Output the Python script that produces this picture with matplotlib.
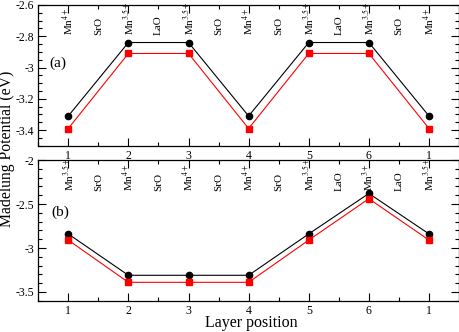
import numpy as np
import matplotlib
matplotlib.use("Agg")
import matplotlib.pyplot as plt
from matplotlib.ticker import MultipleLocator, FuncFormatter

plt.rcParams['font.family'] = ['Liberation Serif', 'DejaVu Serif']
plt.rcParams['mathtext.fontset'] = 'stix'
plt.rcParams['axes.unicode_minus'] = False

# layer positions (7th point repeats layer 1)
positions = [1, 2, 3, 4, 5, 6, 7]
pos_labels = ['1', '2', '3', '4', '5', '6', '1']

# panel (a)
a_black = [-3.31, -2.84, -2.84, -3.31, -2.84, -2.84, -3.31]
a_red = [-3.39, -2.91, -2.91, -3.39, -2.91, -2.91, -3.39]
a_layers = [r'Mn$^{4+}$', 'SrO', r'Mn$^{3.5+}$', 'LaO', r'Mn$^{3.5+}$', 'SrO',
            r'Mn$^{4+}$', 'SrO', r'Mn$^{3.5+}$', 'LaO', r'Mn$^{3.5+}$', 'SrO',
            r'Mn$^{4+}$']

# panel (b)
b_black = [-2.84, -3.31, -3.31, -3.31, -2.84, -2.38, -2.84]
b_red = [-2.91, -3.39, -3.39, -3.39, -2.91, -2.44, -2.91]
b_layers = [r'Mn$^{3.5+}$', 'SrO', r'Mn$^{4+}$', 'SrO', r'Mn$^{4+}$', 'SrO',
            r'Mn$^{4+}$', 'SrO', r'Mn$^{3.5+}$', 'LaO', r'Mn$^{3+}$', 'LaO',
            r'Mn$^{3.5+}$']

layer_x = np.arange(1, 7.01, 0.5)

fig = plt.figure(figsize=(4.6, 3.32), dpi=100)
ax1 = fig.add_axes([0.083, 0.561, 0.915, 0.424])
ax2 = fig.add_axes([0.083, 0.094, 0.915, 0.424])


def style_axis(ax, ylim, major, minor):
    ax.set_xlim(0.5, 7.5)
    ax.set_ylim(*ylim)
    ax.set_xticks(positions)
    ax.set_xticklabels(pos_labels)
    ax.xaxis.set_minor_locator(MultipleLocator(0.5))
    ax.yaxis.set_major_locator(MultipleLocator(major))
    ax.yaxis.set_minor_locator(MultipleLocator(minor))
    ax.yaxis.set_major_formatter(FuncFormatter(lambda v, p: '%g' % round(v, 3)))
    ax.tick_params(which='both', direction='in', top=True, right=True, labelsize=8.5, pad=3)
    ax.tick_params(which='major', length=6, width=0.8)
    ax.tick_params(which='minor', length=3, width=0.8)
    for s in ax.spines.values():
        s.set_linewidth(0.9)


def draw_panel(ax, black, red, layers, label_y, tag, tag_xy):
    ax.plot(positions, black, color='black', lw=0.8, marker='o', ms=4.5, zorder=3)
    ax.plot(positions, red, color='red', lw=0.8, marker='s', ms=4.5, zorder=3)
    for x, name in zip(layer_x, layers):
        ax.text(x, label_y, name, rotation=90, ha='center', va='bottom', fontsize=8)
    ax.text(tag_xy[0], tag_xy[1], tag, ha='center', va='center', fontsize=11)


style_axis(ax1, (-3.5, -2.6), 0.2, 0.05)
style_axis(ax2, (-3.6, -2.0), 0.5, 0.1)

draw_panel(ax1, a_black, a_red, a_layers, -2.79, '(a)', (0.83, -2.97))
draw_panel(ax2, b_black, b_red, b_layers, -2.35, '(b)', (0.87, -2.59))

fig.text(0.547, 0.027, 'Layer position', ha='center', va='center', fontsize=11.5)
fig.text(0.016, 0.551, 'Madelung Potential (eV)', rotation=90, ha='center', va='center', fontsize=11.3)

fig.savefig('out.png', dpi=100)
